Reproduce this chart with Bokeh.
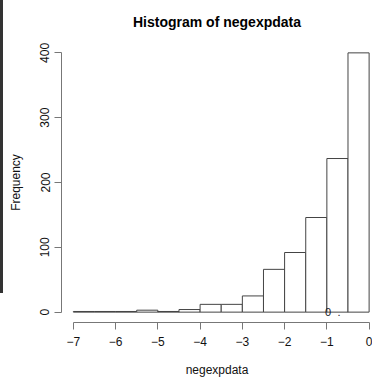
from bokeh.plotting import figure
from bokeh.models import ColumnDataSource, FixedTicker, Div
from bokeh.layouts import row
from bokeh.core.properties import value
from bokeh.embed import file_html
from bokeh.resources import INLINE

# Histogram bins (width 0.5) and counts
bin_left = [-7.0, -6.5, -6.0, -5.5, -5.0, -4.5, -4.0, -3.5, -3.0, -2.5, -2.0, -1.5, -1.0, -0.5]
bin_right = [-6.5, -6.0, -5.5, -5.0, -4.5, -4.0, -3.5, -3.0, -2.5, -2.0, -1.5, -1.0, -0.5, 0.0]
counts = [1, 1, 1, 3, 1, 4, 12, 12, 25, 66, 92, 146, 237, 400]

x_ticks = [-7, -6, -5, -4, -3, -2, -1, 0]
y_ticks = [0, 100, 200, 300, 400]

# stray text marks near the baseline
note_x = [-0.97, -0.71]
note_y = [0, 0]
note_text = ["0", "."]

FONT = "Liberation Sans"

p = figure(width=369, height=380, output_backend="svg", toolbar_location=None,
           x_range=(-7.28, 0.08), y_range=(-16, 416),
           min_border_left=58, min_border_right=0, min_border_top=42,
           min_border_bottom=58, margin=(0, 0, 0, 0))

p.title.text = "Histogram of negexpdata"
p.title.text_font = FONT
p.title.text_font_size = "14px"
p.title.text_font_style = "bold"
p.title.align = "center"
p.title.vertical_align = "top"
p.title.text_color = "#000000"
p.title.offset = 6
p.title.standoff = 22

src = ColumnDataSource(dict(left=bin_left, right=bin_right, top=counts,
                            bottom=[0] * len(counts)))
p.quad(left="left", right="right", top="top", bottom="bottom", source=src,
       fill_color="white", line_color="#444444", line_width=1)

p.text(x=note_x, y=note_y, text=note_text, text_font=value(FONT),
       text_font_size="11px", text_align="center", text_baseline="middle",
       text_color="#1a1a2a")

p.grid.visible = False
p.outline_line_color = None
p.background_fill_color = "white"
p.border_fill_color = "white"

xa = p.xaxis[0]
xa.ticker = FixedTicker(ticks=x_ticks)
xa.bounds = (-7, 0)
xa.axis_label = "negexpdata"
ya = p.yaxis[0]
ya.ticker = FixedTicker(ticks=y_ticks)
ya.bounds = (0, 400)
ya.axis_label = "Frequency"
ya.major_label_orientation = "vertical"

for ax in (xa, ya):
    ax.axis_line_color = "#777777"
    ax.major_tick_line_color = "#777777"
    ax.minor_tick_line_color = None
    ax.major_tick_in = 0
    ax.major_tick_out = 7
    ax.major_label_text_font = FONT
    ax.major_label_text_font_size = "12px"
    ax.major_label_text_color = "#111111"
    ax.axis_label_text_font = FONT
    ax.axis_label_text_font_size = "12px"
    ax.axis_label_text_font_style = "normal"
    ax.axis_label_text_color = "#111111"

xa.major_label_standoff = 7
xa.axis_label_standoff = 14
ya.major_label_standoff = 5
ya.axis_label_standoff = 15

# dark edge line at the left of the picture
edge = Div(width=3, height=293, margin=(0, 0, 0, 0),
           styles={"background-color": "#333333"})

layout = row(edge, p, spacing=0, margin=(0, 0, 0, 0))

open("out.html", "w").write(file_html(layout, INLINE))
